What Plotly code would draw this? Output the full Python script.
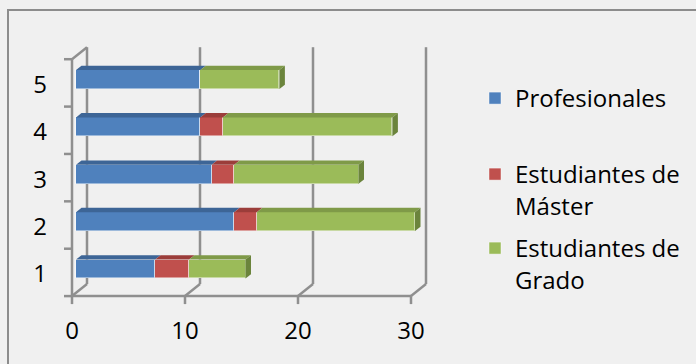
import plotly.graph_objects as go

# Survey respondents per item, stacked by group
categories = [1, 2, 3, 4, 5]
profesionales = [7, 14, 12, 11, 11]
master = [3, 2, 2, 2, 0]
grado = [5, 14, 11, 15, 7]
tick_values = [0, 10, 20, 30]

series = [
    ("Profesionales", profesionales, "#4f81bd", "#3d6596", "#35588a", "legend"),
    ("Estudiantes de<br>Máster", master, "#c0504d", "#9b3d3a", "#8a3431", "legend2"),
    ("Estudiantes de<br>Grado", grado, "#9bbb59", "#7f9a48", "#6b843c", "legend3"),
]

# Figure geometry (pixels)
W, H = 696, 364
ML, MR, MT, MB = 60, 256, 40, 54
PW, PH = W - ML - MR, H - MT - MB
SX = 11.3        # px per x unit
SY = 47.375      # px per category
X_RANGE = [-16 / SX, (PW - 16) / SX]
Y_RANGE = [1 - (MT + PH - 269) / SY, 5 + (79.5 - MT) / SY]
BAR_W = 0.4

# Depth planes, as pixel offsets from the bars' front faces (right, down)
FRONT = (-4.0, 3.4)
BACK = (11.0, -8.6)
BAR_BACK = (5.5, -4.3)


def at(x, y, plane=(0.0, 0.0)):
    return x + plane[0] / SX, y - plane[1] / SY


def fmt(pts):
    return "M " + " L ".join(f"{px:.4f},{py:.4f}" for px, py in pts) + " Z"


def px_x(px):
    return (px - ML) / PW


def px_y(py):
    return 1 - (py - MT) / PH


GRID = dict(color="#8f8f8f", width=2.5)
shapes = []

y_lo, y_hi = categories[0] - 0.5, categories[-1] + 0.5
x_hi = tick_values[-1]

# Back wall gridlines and floor diagonals
for v in tick_values:
    bx0, by0 = at(v, y_lo, BACK)
    bx1, by1 = at(v, y_hi, BACK)
    shapes.append(dict(type="line", xref="x", yref="y", x0=bx0, y0=by0, x1=bx1, y1=by1,
                       line=GRID, layer="below"))
    fx, fy = at(v, y_lo, FRONT)
    shapes.append(dict(type="line", xref="x", yref="y", x0=fx, y0=fy, x1=bx0, y1=by0,
                       line=GRID, layer="below"))
    shapes.append(dict(type="line", xref="x", yref="y", x0=fx, y0=fy, x1=fx, y1=fy - 8 / SY,
                       line=GRID, layer="below"))

# Floor front edge
fx0, fy0 = at(0, y_lo, FRONT)
fx1, _ = at(x_hi, y_lo, FRONT)
shapes.append(dict(type="line", xref="x", yref="y", x0=fx0, y0=fy0, x1=fx1, y1=fy0,
                   line=GRID, layer="below"))

# Left wall: front edge, top diagonal, category ticks
wx, wy_top = at(0, y_hi, FRONT)
shapes.append(dict(type="line", xref="x", yref="y", x0=wx, y0=fy0, x1=wx, y1=wy_top,
                   line=GRID, layer="below"))
bx, by = at(0, y_hi, BACK)
shapes.append(dict(type="line", xref="x", yref="y", x0=wx, y0=wy_top, x1=bx, y1=by,
                   line=GRID, layer="below"))
for k in range(len(categories) + 1):
    tx, ty = at(0, y_lo + k, FRONT)
    shapes.append(dict(type="line", xref="x", yref="y", x0=tx - 8 / SX, y0=ty, x1=tx, y1=ty,
                       line=GRID, layer="below"))

# Bar depth: top faces and end faces
for i, cat in enumerate(categories):
    left = 0.0
    top, bot = cat + BAR_W / 2, cat - BAR_W / 2
    last = None
    for name, vals, col, top_col, side_col, _ in series:
        v = vals[i]
        if v <= 0:
            continue
        right = left + v
        pts = [at(left, top), at(right, top), at(right, top, BAR_BACK), at(left, top, BAR_BACK)]
        shapes.append(dict(type="path", xref="x", yref="y", path=fmt(pts),
                           fillcolor=top_col, line=dict(width=0), layer="above"))
        last = (right, side_col)
        left = right
    if last:
        right, side_col = last
        pts = [at(right, top), at(right, top, BAR_BACK), at(right, bot, BAR_BACK), at(right, bot)]
        shapes.append(dict(type="path", xref="x", yref="y", path=fmt(pts),
                           fillcolor=side_col, line=dict(width=0), layer="above"))

# Chart area border
shapes.append(dict(type="rect", xref="paper", yref="paper",
                   x0=px_x(8), y0=px_y(10), x1=px_x(W + 10), y1=px_y(H + 10),
                   line=dict(color="#8c8c8c", width=2), layer="below"))

fig = go.Figure()
for name, vals, col, top_col, side_col, leg in series:
    fig.add_trace(go.Bar(
        y=categories, x=vals, name=name, orientation="h", width=BAR_W,
        marker=dict(color=col, line=dict(color="rgba(255,255,255,0.45)", width=1)),
        legend=leg,
    ))

FONT = dict(family="Open Sans", size=24, color="#000000")
leg_common = dict(font=FONT, bgcolor="rgba(0,0,0,0)", borderwidth=0, valign="top",
                  xanchor="left", yanchor="top", itemclick=False)

LEG_X = px_x(475)
fig.update_layout(
    width=W, height=H,
    margin=dict(l=ML, r=MR, t=MT, b=MB, autoexpand=False),
    paper_bgcolor="#f0f0f0",
    plot_bgcolor="rgba(0,0,0,0)",
    barmode="stack",
    bargap=0,
    showlegend=True,
    font=FONT,
    shapes=shapes,
    xaxis=dict(range=X_RANGE, tickvals=tick_values, ticktext=[str(v) for v in tick_values],
               showgrid=False, zeroline=False, showline=False, ticks="",
               ticklabelshift=-4, ticklabelstandoff=4, tickfont=FONT, fixedrange=True,
               automargin=False),
    yaxis=dict(range=Y_RANGE, tickvals=categories, ticktext=[str(c) for c in categories],
               showgrid=False, zeroline=False, showline=False, ticks="",
               ticklabelshift=5, ticklabelstandoff=12, tickfont=FONT, fixedrange=True,
               automargin=False),
    legend=dict(x=LEG_X, y=px_y(76), **leg_common),
    legend2=dict(x=LEG_X, y=px_y(152), **leg_common),
    legend3=dict(x=LEG_X, y=px_y(226), **leg_common),
)

fig.write_html("out.html")
